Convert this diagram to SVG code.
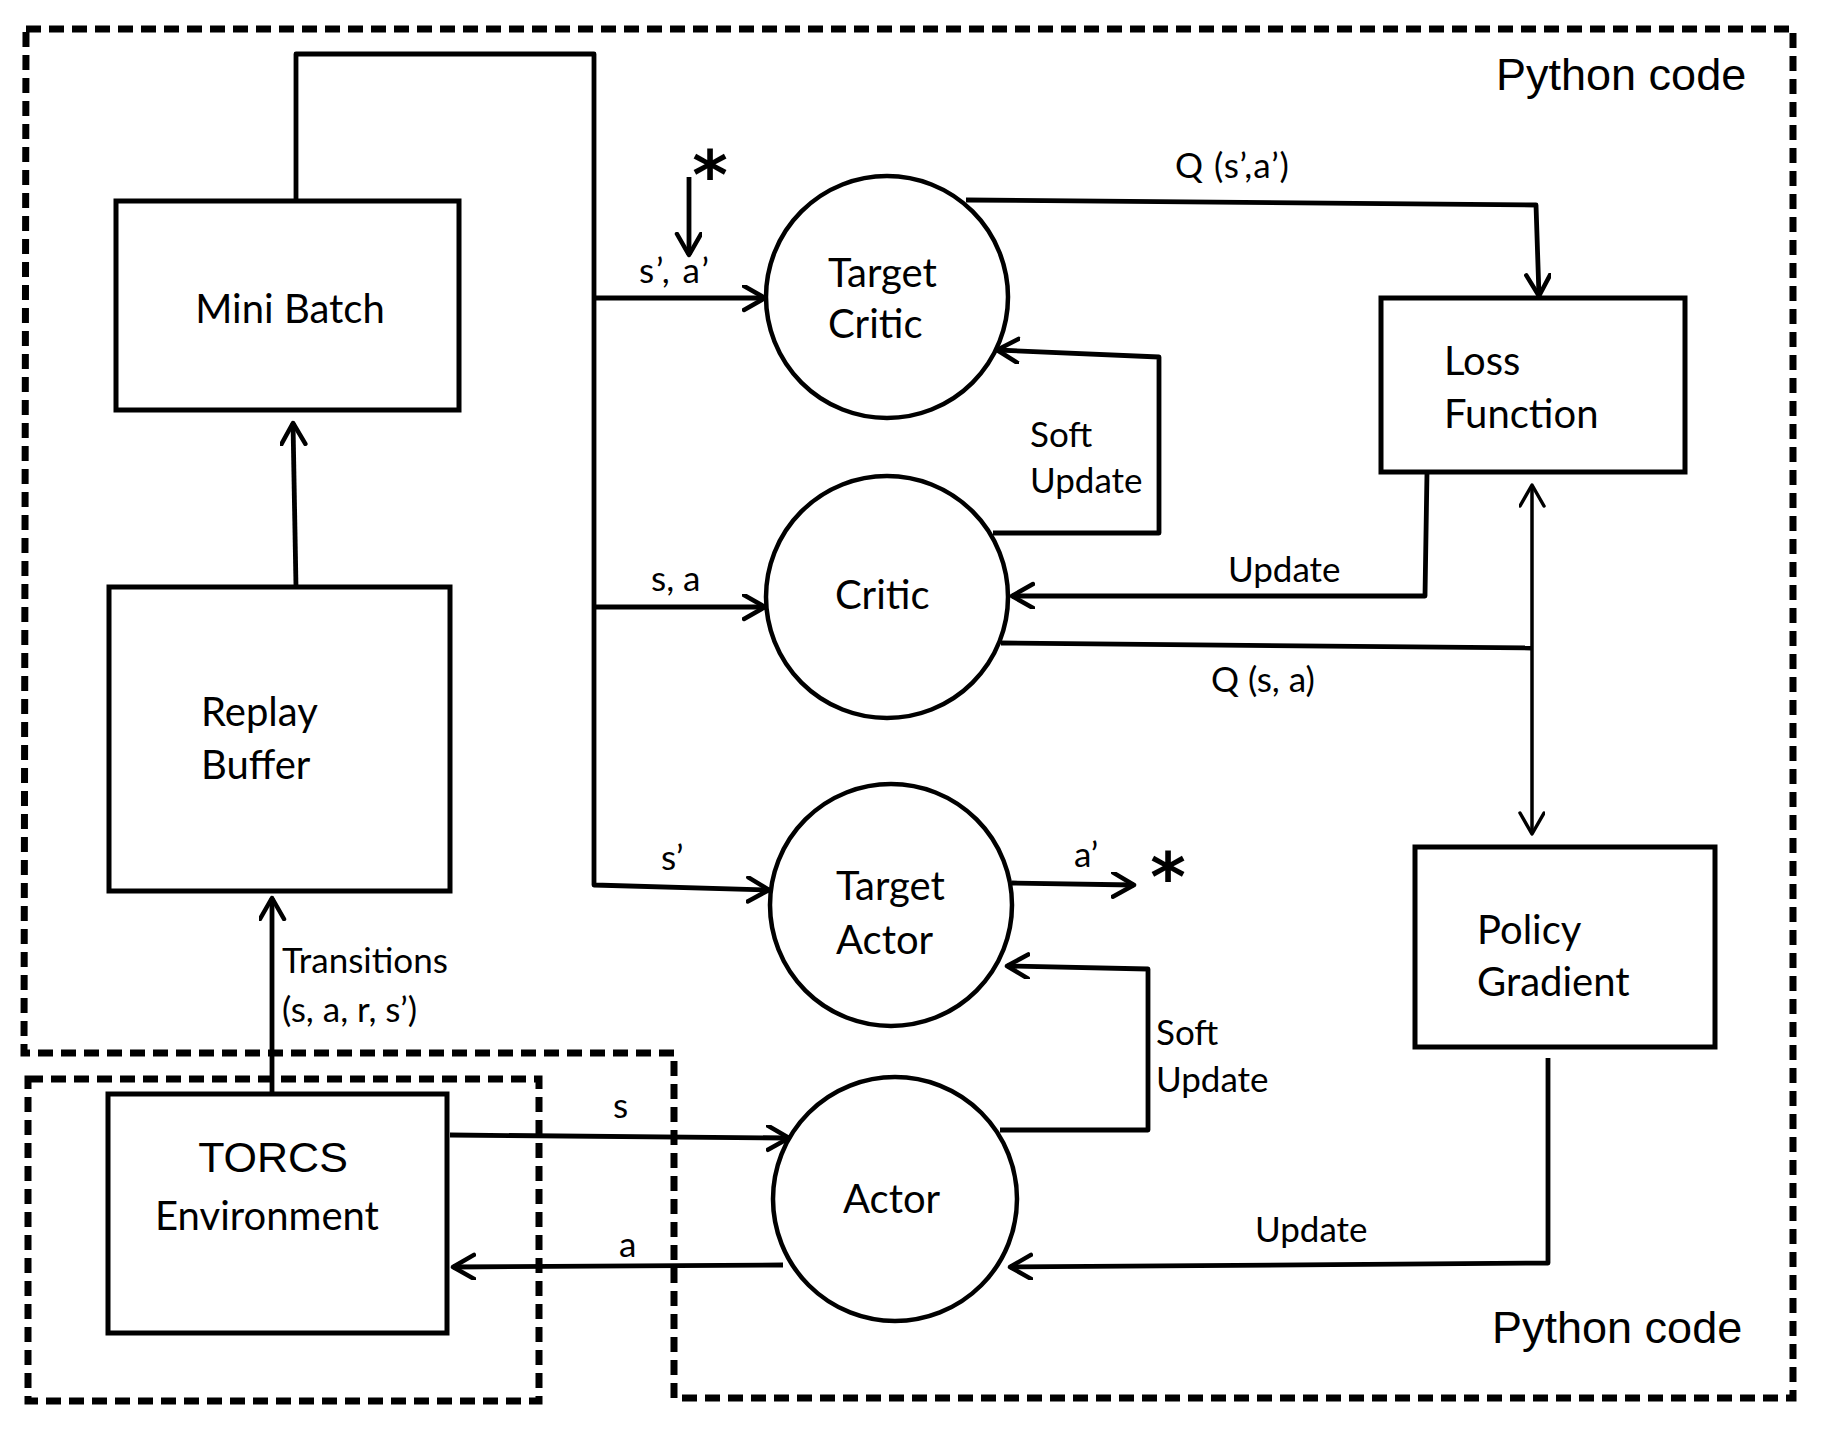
<svg xmlns="http://www.w3.org/2000/svg" width="1831" height="1434" viewBox="0 0 1831 1434">
<defs>
<marker id="arr" markerUnits="userSpaceOnUse" markerWidth="30" markerHeight="30" refX="23" refY="13" orient="auto">
<path d="M2,1 L23,13 L2,25" fill="none" stroke="#000" stroke-width="4.5" stroke-linecap="round" stroke-linejoin="round"/>
</marker>
<marker id="arrS" markerUnits="userSpaceOnUse" markerWidth="30" markerHeight="30" refX="23" refY="13" orient="auto-start-reverse">
<path d="M2,1 L23,13 L2,25" fill="none" stroke="#000" stroke-width="3.5" stroke-linecap="round" stroke-linejoin="round"/>
</marker>
</defs>
<style>
.box{fill:#fff;stroke:#000;stroke-width:5}
.circ{fill:#fff;stroke:#000;stroke-width:4.5}
.dash{fill:none;stroke:#000;stroke-width:7;stroke-dasharray:15 8}
.ln{fill:none;stroke:#000;stroke-width:4.8;stroke-linejoin:round}
.thin{fill:none;stroke:#000;stroke-width:3.5}
.nt{font-family:Lato,"Open Sans",sans-serif;font-size:40px;fill:#000}
.et{font-family:Lato,"Open Sans",sans-serif;font-size:35px;fill:#000}
.at{font-family:"Liberation Sans",Arial,sans-serif;fill:#000}
.star{font-family:"DejaVu Sans",sans-serif;font-weight:bold;font-size:68px;fill:#000;text-anchor:middle}
</style>
<rect width="1831" height="1434" fill="#fff"/>

<g id="python-region">
<path class="dash" d="M26,29 H1793 V1398 H674 V1053 H24 Z"/>
<text class="at" x="1496" y="90" font-size="45">Python code</text>
<text class="at" x="1492" y="1343" font-size="45">Python code</text>
</g>
<g id="torcs-region">
<rect class="dash" x="28" y="1079" width="511" height="322"/>
</g>

<g id="connectors">
<path class="ln" d="M296,201 V54 H594 V885 L769,890" marker-end="url(#arr)"/>
<path class="ln" d="M594,298 H765" marker-end="url(#arr)"/>
<path class="ln" d="M594,607 H765" marker-end="url(#arr)"/>
<path class="ln" d="M689,177 V255" marker-end="url(#arr)"/>
<text class="star" x="710" y="199">*</text>
<path class="ln" d="M1012,883 L1134,885" marker-end="url(#arr)"/>
<text class="star" x="1168" y="901">*</text>
<path class="ln" d="M966,200 L1536,205 L1539,296" marker-end="url(#arr)"/>
<path class="ln" d="M993,533 H1159 V357 L997,350" marker-end="url(#arr)"/>
<path class="ln" d="M1427,472 L1425,596 H1012" marker-end="url(#arr)"/>
<path class="ln" d="M1001,643 L1532,648"/>
<path class="thin" d="M1532,485 V834" marker-start="url(#arrS)" marker-end="url(#arrS)"/>
<path class="ln" d="M1000,1130 H1148 V969 L1007,966" marker-end="url(#arr)"/>
<path class="ln" d="M1548,1058 V1263 L1010,1267" marker-end="url(#arr)"/>
<path class="ln" d="M450,1135 L789,1138" marker-end="url(#arr)"/>
<path class="ln" d="M783,1265 L453,1267" marker-end="url(#arr)"/>
<path class="ln" d="M272,1094 V898" marker-end="url(#arr)"/>
<path class="ln" d="M296,587 L293,423" marker-end="url(#arr)"/>

<text class="et" x="639" y="283" letter-spacing="2">s’, a’</text>
<text class="et" x="651" y="591">s, a</text>
<text class="et" x="661" y="870">s’</text>
<text class="et" x="1074" y="867">a’</text>
<text class="et" x="1175" y="178" letter-spacing="1">Q (s’,a’)</text>
<text class="et" x="1030" y="447">Soft</text>
<text class="et" x="1030" y="493">Update</text>
<text class="et" x="1228" y="582">Update</text>
<text class="et" x="1211" y="692">Q (s, a)</text>
<text class="et" x="1156" y="1045">Soft</text>
<text class="et" x="1156" y="1092">Update</text>
<text class="et" x="1255" y="1242">Update</text>
<text class="et" x="613" y="1118">s</text>
<text class="et" x="619" y="1257">a</text>
<text class="et" x="282" y="973">Transitions</text>
<text class="et" x="282" y="1022">(s, a, r, s’)</text>
</g>

<g id="mini-batch">
<rect class="box" x="116" y="201" width="343" height="209"/>
<text class="nt" x="290" y="323" text-anchor="middle">Mini Batch</text>
</g>
<g id="replay-buffer">
<rect class="box" x="109" y="587" width="341" height="304"/>
<text class="nt" x="201" y="726">Replay</text>
<text class="nt" x="201" y="779">Buffer</text>
</g>
<g id="torcs">
<rect class="box" x="108" y="1094" width="339" height="239"/>
<text class="at" x="273" y="1172" font-size="43" text-anchor="middle">TORCS</text>
<text class="nt" x="267" y="1230" text-anchor="middle">Environment</text>
</g>
<g id="target-critic">
<circle class="circ" cx="887" cy="297" r="121"/>
<text class="nt" x="828" y="287">Target</text>
<text class="nt" x="828" y="338">Critic</text>
</g>
<g id="critic">
<circle class="circ" cx="887" cy="597" r="121"/>
<text class="nt" x="835" y="609">Critic</text>
</g>
<g id="target-actor">
<circle class="circ" cx="891" cy="905" r="121"/>
<text class="nt" x="836" y="900">Target</text>
<text class="nt" x="836" y="954">Actor</text>
</g>
<g id="actor">
<circle class="circ" cx="895" cy="1199" r="122"/>
<text class="nt" x="843" y="1213">Actor</text>
</g>
<g id="loss-function">
<rect class="box" x="1381" y="298" width="304" height="174"/>
<text class="nt" x="1444" y="375">Loss</text>
<text class="nt" x="1444" y="428">Function</text>
</g>
<g id="policy-gradient">
<rect class="box" x="1415" y="847" width="300" height="200"/>
<text class="nt" x="1477" y="944">Policy</text>
<text class="nt" x="1477" y="996">Gradient</text>
</g>
</svg>
